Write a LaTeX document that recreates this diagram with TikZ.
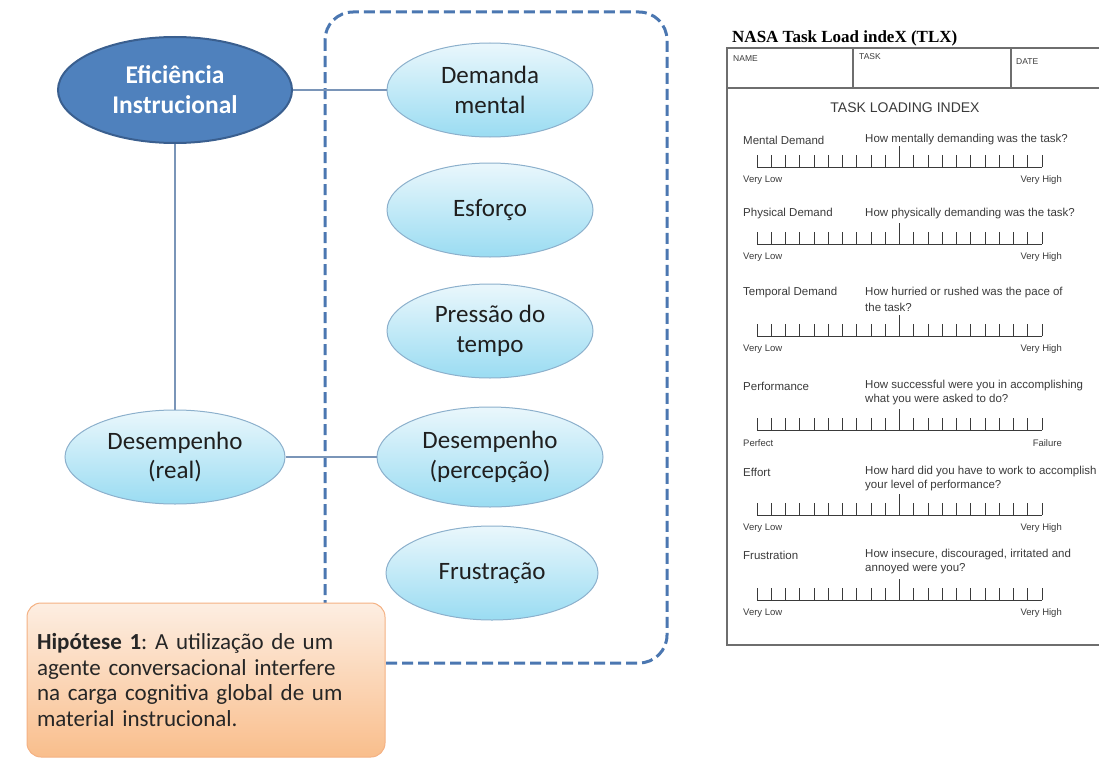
\documentclass[tikz,border=0pt]{standalone}
\usepackage{fontspec}
\setmainfont{Carlito}
\newfontfamily\formfont{Liberation Sans}
\newfontfamily\titlefont{Liberation Serif}
\usetikzlibrary{shapes.geometric}
\frenchspacing

\definecolor{efblue}{HTML}{4F81BD}
\definecolor{efdark}{HTML}{3A5F8F}
\definecolor{eltop}{HTML}{EAF7FC}
\definecolor{elbot}{HTML}{9ADCF2}
\definecolor{elborder}{HTML}{8CB0CC}
\definecolor{ligcolor}{HTML}{7A95B8}
\definecolor{dashcolor}{HTML}{4B77B1}
\definecolor{hiptop}{HTML}{FDEEE2}
\definecolor{hipbot}{HTML}{F9BE8C}
\definecolor{hipborder}{HTML}{F4B183}
\definecolor{formgray}{HTML}{6E6E6E}
\definecolor{formtext}{HTML}{3A3A3A}

\begin{document}
\begin{tikzpicture}[x=1pt,y=-1pt,
    conceito/.style={ellipse, draw=elborder, line width=1pt, top color=eltop, bottom color=elbot,
      minimum width=206pt, minimum height=94pt, inner sep=0pt, align=center,
      font=\fontsize{25}{29.5}\selectfont, text=black!88},
    ligacao/.style={draw=ligcolor, line width=1.3pt},
    formline/.style={draw=formgray, line width=1.2pt},
    scaleline/.style={draw=formtext, line width=0.9pt},
    formtxt/.style={font=\formfont\fontsize{11.5}{14}\selectfont, text=formtext, inner sep=0pt},
    anchortxt/.style={font=\formfont\fontsize{9.5}{11}\selectfont, text=formtext, inner sep=0pt}]
\useasboundingbox (0,0) rectangle (1099,760);
\clip (0,0) rectangle (1099,760);

% 虚线框
\draw[dashcolor, line width=3pt, dash pattern=on 11pt off 5pt, rounded corners=28pt] (325,12) rectangle (667,663);

% 椭圆
\node[ellipse, draw=efdark, line width=2pt, fill=efblue, minimum width=234pt, minimum height=106pt,
  inner sep=0pt, align=center, text=white, font=\bfseries\fontsize{25.5}{30}\selectfont] (efic) at (175,90) {Eficiência\\Instrucional};
\node[conceito, minimum width=220pt] (desreal) at (175,457) {Desempenho\\(real)};
\node[conceito] (demanda) at (490,90) {Demanda\\mental};
\node[conceito] (esforco) at (490,210) {Esforço};
\node[conceito] (pressao) at (490,331) {Pressão do\\tempo};
\node[conceito, minimum width=226pt, minimum height=100pt] (desperc) at (490,457) {Desempenho\\(percepção)};
\node[conceito, minimum width=212pt] (frustr) at (492,573) {Frustração};

\draw[ligacao] (efic.south) -- (desreal.north);
\draw[ligacao] (efic.east) -- (demanda.west);
\draw[ligacao] (desreal.east) -- (desperc.west);

% 假设
\node[draw=hipborder, line width=1pt, rounded corners=14pt, top color=hiptop, bottom color=hipbot,
  minimum width=358pt, minimum height=154pt, text width=338pt, align=left, inner sep=0pt,
  font=\fontsize{23}{25.4}\selectfont, text=black!85] (hipotese) at (206,680)
  {\textbf{Hipótese 1}: A utilização de um\\agente conversacional interfere\\na carga cognitiva global de um\\material instrucional.};

% NASA TLX
\node[anchor=base west, inner sep=0pt, font=\titlefont\bfseries\fontsize{17}{20}\selectfont] (titulo) at (732,43) {NASA Task Load indeX (TLX)};
\draw[formline] (727,48) rectangle (1110,645);
\draw[formline, line width=1.8pt] (727,88) -- (1110,88);
\draw[formline] (853,48) -- (853,88);
\draw[formline] (1011,48) -- (1011,88);
\node[anchortxt, anchor=west, font=\formfont\fontsize{8.5}{10}\selectfont] (nome) at (733,59) {NAME};
\node[anchortxt, anchor=west, font=\formfont\fontsize{8.5}{10}\selectfont] (tarefa) at (859,57) {TASK};
\node[anchortxt, anchor=west, font=\formfont\fontsize{8.5}{10}\selectfont] (data) at (1016,62) {DATE};
\node[formtxt, font=\formfont\fontsize{14}{16}\selectfont] (tli) at (905,108) {TASK LOADING INDEX};

\foreach \ly/\sy/\nome/\pa/\pb/\lo/\hi [count=\k] in {
    140/167/Mental Demand/How mentally demanding was the task?/{}/Very Low/Very High,
    214/244/Physical Demand/How physically demanding was the task?/{}/Very Low/Very High,
    293/336/Temporal Demand/How hurried or rushed was the pace of/the task?/Very Low/Very High,
    386/430/Performance/How successful were you in accomplishing/what you were asked to do?/Perfect/Failure,
    472/515/Effort/How hard did you have to work to accomplish/your level of performance?/Very Low/Very High,
    555/600/Frustration/{How insecure, discouraged, irritated and}/annoyed were you?/Very Low/Very High}{
  \node[formtxt, anchor=west] (item\k) at (743,\ly) {\nome};
  \node[formtxt, anchor=west] (qa\k) at (865,\ly) {\pa};
  \node[formtxt, anchor=west] (qb\k) at (865,\ly+14) {\pb};
  \draw[scaleline] (757,\sy) -- (1042,\sy);
  \foreach \i in {0,...,20}
    \draw[scaleline] ({757+14.25*\i},\sy) -- ++(0,-12);
  \draw[scaleline] (899.5,\sy) -- ++(0,-21);
  \node[anchortxt, anchor=west] (lo\k) at (743,\sy+13) {\lo};
  \node[anchortxt, anchor=east] (hi\k) at (1062,\sy+13) {\hi};
}
\end{tikzpicture}
\end{document}
